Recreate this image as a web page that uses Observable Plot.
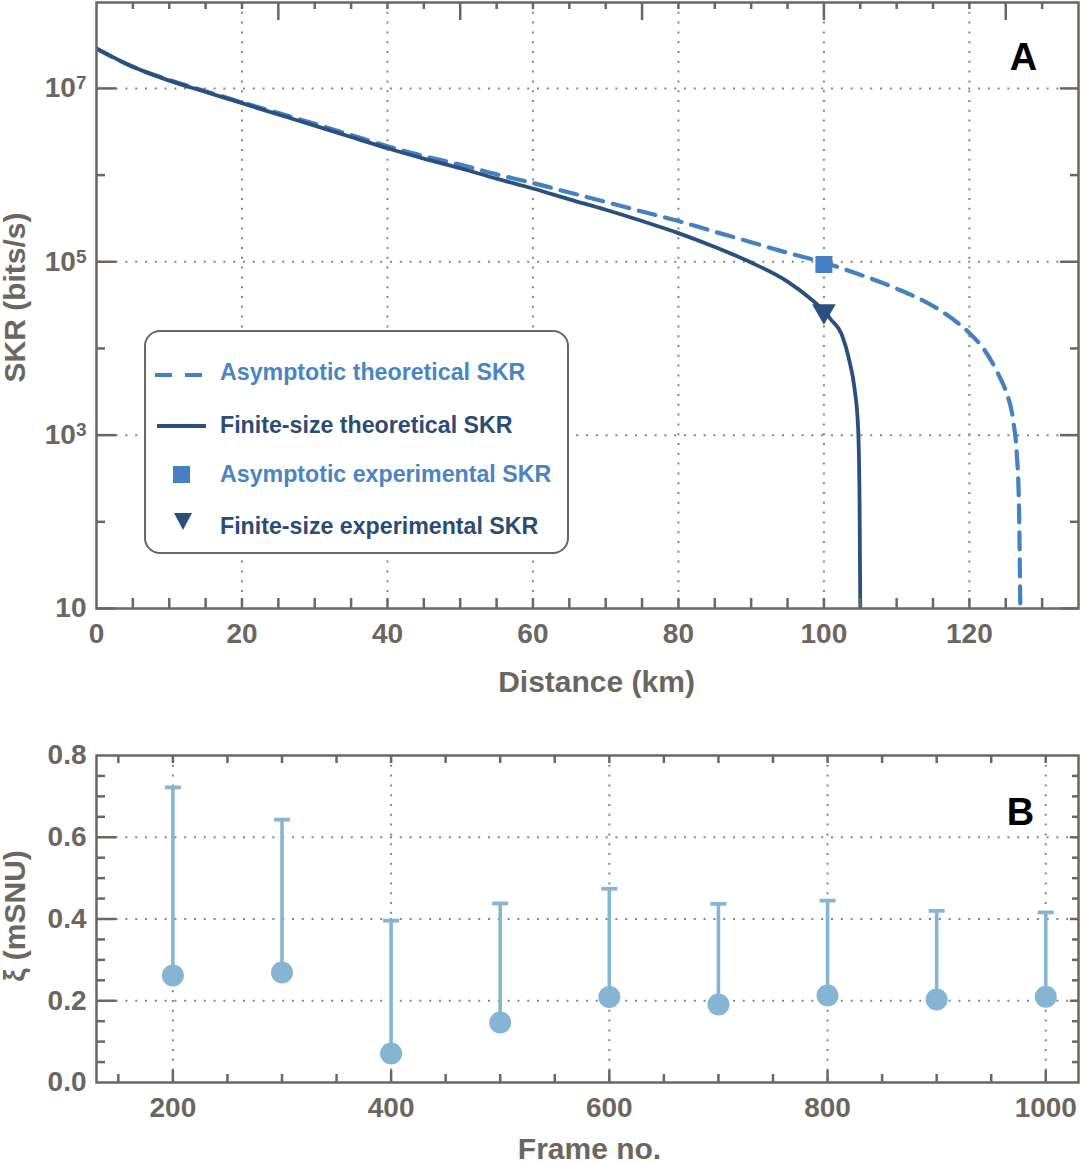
<!DOCTYPE html>
<html><head><meta charset="utf-8">
<script src="https://cdn.jsdelivr.net/npm/d3@7"></script>
<script src="https://cdn.jsdelivr.net/npm/@observablehq/plot@0.6"></script>
<style>
body{margin:0;background:#fff;}
#chart{width:1080px;}
#chart svg{display:block;}
</style></head><body><div id="chart"></div>
<script>
// ---------- Panel A data ----------
const asymKm  = [0,5,10,15,20,25,30,35,40,45,50,55,60,65,70,75,80,85,90,95,100,105,110,115,118,120,122,124,125,126,126.5,126.8,127];
const asymSKR = [2.88e7,1.78e7,1.25e7,9.3e6,6.9e6,5.2e6,3.9e6,2.9e6,2.15e6,1.66e6,1.32e6,1.02e6,8.1e5,6.3e5,4.9e5,3.8e5,2.95e5,2.22e5,1.68e5,1.27e5,9.8e4,7.08e4,4.9e4,3.09e4,2.09e4,1.51e4,9.8e3,5.0e3,3.24e3,1.51e3,630,178,10];
const finiteKm  = [0,5,10,15,20,25,30,35,40,45,50,55,60,65,70,75,80,85,90,95,98,100,101,102.4,103.5,104.2,104.7,104.9,105];
const finiteSKR = [2.88e7,1.78e7,1.23e7,9.1e6,6.76e6,5.0e6,3.72e6,2.75e6,2.04e6,1.55e6,1.2e6,9.1e5,7.0e5,5.25e5,3.98e5,2.95e5,2.14e5,1.48e5,9.8e4,5.9e4,3.85e4,2.7e4,2.14e4,1.48e4,7.2e3,3.5e3,1.23e3,178,10];
const expKm = [100];
const asymExpSKR = [9.3e4];
const finiteExpSKR = [2.7e4];
const xTicksA = [0,20,40,60,80,100,120];
const yTicksA = [10,1e3,1e5,1e7];
const yMinorA = [1e2,1e4,1e6];
const legendLabels = ["Asymptotic theoretical SKR","Finite-size theoretical SKR","Asymptotic experimental SKR","Finite-size experimental SKR"];

// ---------- Panel B data ----------
const frames = [200,300,400,500,600,700,800,900,1000];
const xi     = [0.262,0.269,0.071,0.147,0.209,0.191,0.213,0.203,0.210];
const xiUpper= [0.722,0.643,0.396,0.438,0.474,0.437,0.445,0.420,0.416];
const xTicksB = [200,400,600,800,1000];
const yTicksB = [0,0.2,0.4,0.6,0.8];

// ---------- style ----------
const font = "'Liberation Sans', Arial, Helvetica, sans-serif";
const gray = "#6b6661";
const gridGray = "#858585";
const asymColor = "#4480c2";
const finiteColor = "#2b4f7e";
const light = "#85b5d3";
const W = 1080, mL = 96, mR = 2;

const asymRows = asymKm.map((k,i)=>({km:k, v:asymSKR[i]}));
const finRows = finiteKm.map((k,i)=>({km:k, v:finiteSKR[i]}));
const bRows = frames.map((f,i)=>({frame:f, xi:xi[i], up:xiUpper[i]}));

function tickSet(values, len, side, inner, opts={}) {
  const o = {stroke: gray, strokeWidth: 2.5, ...opts};
  if (side === "bottom") return Plot.tickX(values, {x: d=>d, insetTop: inner - len, ...o});
  if (side === "top") return Plot.tickX(values, {x: d=>d, insetBottom: inner - len, ...o});
  if (side === "left") return Plot.tickY(values, {y: d=>d, insetRight: inner - len, ...o});
  return Plot.tickY(values, {y: d=>d, insetLeft: inner - len, ...o});
}
const dotted = {stroke: gridGray, strokeWidth: 2, strokeDasharray: "2,7.8"};

// ---------- Panel A ----------
const H1 = 715, mT1 = 2, mB1 = H1 - 608;
const innerH1 = H1 - mT1 - mB1, innerW = W - mL - mR;
const range5 = d3.range(5, 135, 5);
const plotA = Plot.plot({
  width: W, height: H1, marginTop: mT1, marginBottom: mB1, marginLeft: mL, marginRight: mR,
  style: {fontFamily: font, fontSize: "28px", fontWeight: "bold", color: gray, background: "white", overflow: "visible"},
  x: {domain: [0, 135]},
  y: {type: "log", domain: [10, 9.8e7]},
  marks: [
    Plot.ruleX(xTicksA.filter(d=>d>0), dotted),
    Plot.ruleY(yTicksA.filter(d=>d>10), dotted),
    Plot.line(asymRows, {x:"km", y:"v", stroke: asymColor, strokeWidth: 4.2, strokeDasharray: "17,10", curve: "monotone-x", clip: true}),
    Plot.line(finRows, {x:"km", y:"v", stroke: finiteColor, strokeWidth: 3.8, curve: "monotone-x", clip: true}),
    Plot.dot(expKm, {x: d=>d, y: (d,i)=>asymExpSKR[i], symbol: "square", r: 9.6, fill: asymColor}),
    Plot.dot(expKm, {x: d=>d, y: (d,i)=>finiteExpSKR[i], symbol: "triangle", rotate: 180, r: 8.8, fill: finiteColor}),
    Plot.frame({stroke: gray, strokeWidth: 2.5}),
    tickSet(range5, 10, "bottom", innerH1),
    tickSet(range5.filter(d=>d%25!==0), 7, "top", innerH1),
    tickSet(range5.filter(d=>d%25===0), 18, "top", innerH1),
    tickSet(yTicksA, 20, "left", innerW),
    tickSet(yMinorA, 9, "left", innerW),
    tickSet(yTicksA, 18, "right", innerW),
    tickSet(yMinorA, 8, "right", innerW),
    Plot.axisX({ticks: xTicksA, tickSize: 0, tickPadding: 15, tickFormat: d=>String(d), label: null}),
    Plot.axisY({ticks: yTicksA, tickSize: 0, tickPadding: 10, tickFormat: d => d===10 ? "10" : "10^" + Math.round(Math.log10(d)), label: null}),
    Plot.text(["SKR (bits/s)"], {frameAnchor: "left", dx: -81, dy: -8, rotate: -90, textAnchor: "middle", lineAnchor: "middle", fontSize: 30, fontWeight: "bold", fill: gray}),
    Plot.text(["Distance (km)"], {frameAnchor: "bottom", dx: 9, dy: 74, textAnchor: "middle", lineAnchor: "middle", fontSize: 30, fontWeight: "bold", fill: gray}),
    Plot.text(["A"], {frameAnchor: "top-right", dx: -55, dy: 55, textAnchor: "middle", lineAnchor: "middle", fontSize: 38, fontWeight: "bold", fill: "#000"})
  ]
});

// superscripts on log labels
d3.select(plotA).selectAll("text").each(function(){
  const m = /^10\^(\d+)$/.exec(this.textContent);
  if (m) {
    const s = d3.select(this);
    s.text("10");
    s.append("tspan").attr("dy", "-0.42em").attr("font-size", "19px").text(m[1]);
  }
});

// legend (pixel layout, not data)
{
  const g = d3.select(plotA).append("g").attr("font-family", font).attr("font-weight", "bold")
    .attr("font-size", "23.2px").attr("text-anchor", "start");
  g.append("rect").attr("x",145).attr("y",331).attr("width",423).attr("height",222).attr("rx",15)
    .attr("fill","white").attr("stroke",gray).attr("stroke-width",2);
  const rowsY = [372, 425, 474, 526];
  const txtCol = ["#4a84c4", "#2c4b75", "#4a84c4", "#2c4b75"];
  g.append("line").attr("x1",155).attr("x2",202).attr("y1",375).attr("y2",375)
    .attr("stroke",asymColor).attr("stroke-width",4).attr("stroke-dasharray","17,13");
  g.append("line").attr("x1",157).attr("x2",206).attr("y1",426).attr("y2",426)
    .attr("stroke",finiteColor).attr("stroke-width",3.8);
  g.append("rect").attr("x",173).attr("y",466).attr("width",17).attr("height",17).attr("fill",asymColor);
  g.append("path").attr("d","M174,513L192,513L183,530Z").attr("fill",finiteColor);
  legendLabels.forEach((t,i)=>{
    g.append("text").attr("x",220).attr("y",rowsY[i]+8).attr("text-anchor","start").attr("fill",txtCol[i]).text(t);
  });
}

// ---------- Panel B ----------
const H2 = 1164 - H1, mT2 = 755 - H1, mB2 = H2 - (1082 - H1);
const innerH2 = H2 - mT2 - mB2;
const range50 = d3.range(150, 1030, 50);
const range005 = d3.range(1, 16).map(i => i*0.05);
const isMajorY = d => Math.abs(d/0.2 - Math.round(d/0.2)) < 1e-6;
const capSymbol = {draw(ctx){ ctx.moveTo(-8,0); ctx.lineTo(8,0); }};
const plotB = Plot.plot({
  width: W, height: H2, marginTop: mT2, marginBottom: mB2, marginLeft: mL, marginRight: mR,
  style: {fontFamily: font, fontSize: "28px", fontWeight: "bold", color: gray, background: "white", overflow: "visible"},
  x: {domain: [130, 1030]},
  y: {domain: [0, 0.8]},
  marks: [
    Plot.ruleX(xTicksB, dotted),
    Plot.ruleY([0.2,0.4,0.6], dotted),
    Plot.ruleX(bRows, {x:"frame", y1:"xi", y2:"up", stroke: light, strokeWidth: 3.6}),
    Plot.dot(bRows, {x:"frame", y:"up", symbol: capSymbol, stroke: light, strokeWidth: 3.8, fill: "none"}),
    Plot.dot(bRows, {x:"frame", y:"xi", r: 11, fill: light}),
    Plot.frame({stroke: gray, strokeWidth: 2.5}),
    tickSet(range50.filter(d=>d%200!==0), 8, "bottom", innerH2),
    tickSet(range50.filter(d=>d%200===0), 12, "bottom", innerH2),
    tickSet(range50, 8, "top", innerH2),
    tickSet(range005.filter(d=>!isMajorY(d)), 9, "left", innerW),
    tickSet(range005.filter(isMajorY), 20, "left", innerW),
    tickSet(range005.filter(d=>!isMajorY(d)), 6, "right", innerW),
    tickSet(range005.filter(isMajorY), 8, "right", innerW),
    Plot.axisX({ticks: xTicksB, tickSize: 0, tickPadding: 15, tickFormat: d=>String(d), label: null}),
    Plot.axisY({ticks: yTicksB, tickSize: 0, tickPadding: 10, tickFormat: d3.format(".1f"), label: null}),
    Plot.text(["ξ (mSNU)"], {frameAnchor: "left", dx: -81, dy: -3, rotate: -90, textAnchor: "middle", lineAnchor: "middle", fontSize: 30, fontWeight: "bold", fill: gray}),
    Plot.text(["Frame no."], {frameAnchor: "bottom", dx: 2, dy: 67, textAnchor: "middle", lineAnchor: "middle", fontSize: 30, fontWeight: "bold", fill: gray}),
    Plot.text(["B"], {frameAnchor: "top-right", dx: -58, dy: 57, textAnchor: "middle", lineAnchor: "middle", fontSize: 38, fontWeight: "bold", fill: "#000"})
  ]
});

document.getElementById("chart").append(plotA, plotB);
</script></body></html>
